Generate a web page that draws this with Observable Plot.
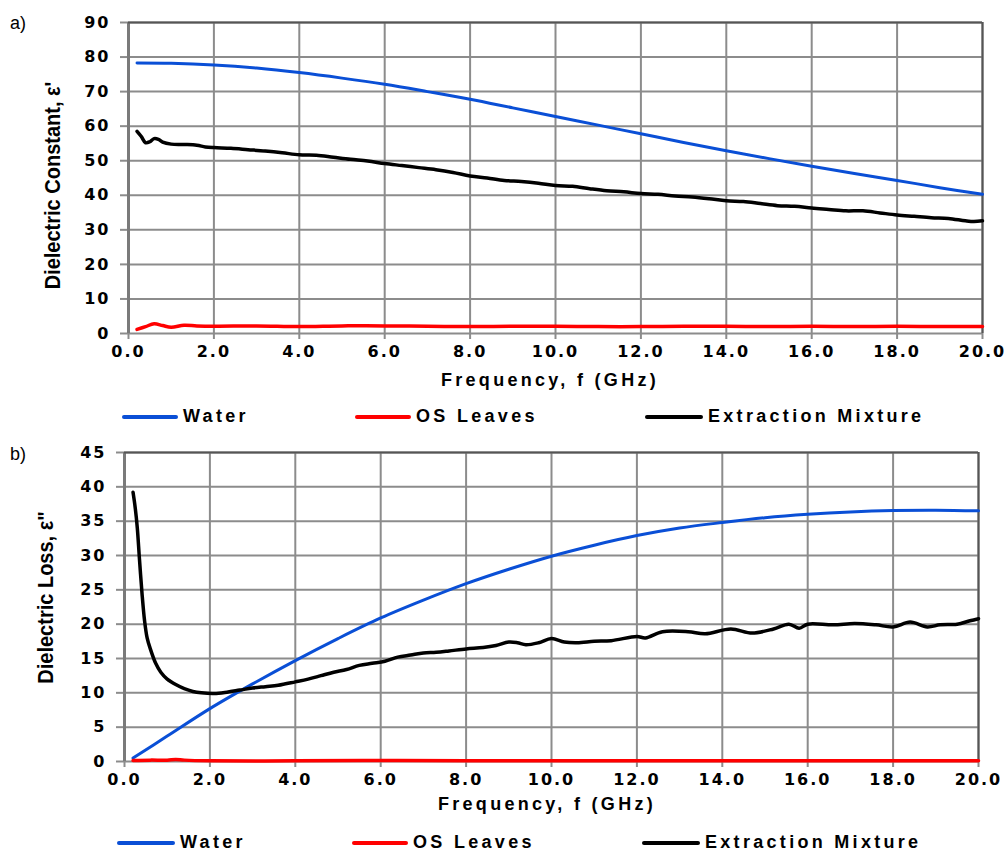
<!DOCTYPE html>
<html>
<head>
<meta charset="utf-8">
<script src="https://cdn.jsdelivr.net/npm/d3@7"></script>
<script src="https://cdn.jsdelivr.net/npm/@observablehq/plot@0.6"></script>
<style>
  html, body { margin: 0; padding: 0; background: #fff; }
  #wrap { position: relative; width: 1006px; height: 854px; overflow: hidden; font-family: "Liberation Sans", Arial, sans-serif; }
  .panel { position: absolute; left: 0; }
  .txt { position: absolute; white-space: nowrap; color: #000; }
  .xtitle { font-weight: bold; font-size: 18px; letter-spacing: 3.3px; width: 400px; text-align: center; }
  .leg { font-weight: bold; font-size: 18px; letter-spacing: 3.3px; }
  .sw { position: absolute; height: 4px; border-radius: 2px; }
  .ytitle { font-size: 20px; font-weight: bold; transform-origin: center center; }
  .plab { font-size: 18px; }
  svg g[aria-label="x-axis tick label"] text { letter-spacing: 2px; }
  svg g[aria-label="y-axis tick label"] text { letter-spacing: 2px; }
</style>
</head>
<body>
<div id="wrap"></div>
<script>
// ---------- data ----------
const xTicks = [0, 2, 4, 6, 8, 10, 12, 14, 16, 18, 20];
const yTicksA = [0, 10, 20, 30, 40, 50, 60, 70, 80, 90];
const yTicksB = [0, 5, 10, 15, 20, 25, 30, 35, 40, 45];
const seriesNames = ["Water", "OS Leaves", "Extraction Mixture"];
const seriesColors = ["#0a4fd6", "#ff0000", "#000000"];

// a) Dielectric constant
const waterFreq = [0.2, 1, 2, 3, 4, 5, 6, 7, 8, 9, 10, 11, 12, 13, 14, 15, 16, 17, 18, 19, 20];
const waterConst = [78.3, 78.2, 77.7, 76.8, 75.5, 73.9, 72.1, 70.0, 67.8, 65.3, 62.8, 60.3, 57.8, 55.3, 52.9, 50.6, 48.4, 46.3, 44.3, 42.2, 40.3];
const leavesConstFreq = [0.2, 0.4, 0.6, 0.8, 1.0, 1.3, 1.6, 2, 3, 4, 5, 6, 7, 8, 9, 10, 11, 12, 13, 14, 15, 16, 17, 18, 19, 20];
const leavesConst = [1.2, 2.0, 2.8, 2.3, 1.8, 2.4, 2.2, 2.1, 2.2, 2.0, 2.2, 2.2, 2.1, 2.0, 2.1, 2.1, 2.0, 2.0, 2.1, 2.1, 2.0, 2.1, 2.0, 2.1, 2.0, 2.0];
const mixConstFreq = [0.2, 0.3, 0.4, 0.5, 0.6, 0.7, 0.8, 1.0, 1.3, 1.6, 1.8, 2.0, 2.4, 2.8, 3.2, 3.6, 4.0, 4.4, 4.8, 5.2, 5.6, 6.0, 6.4, 6.8, 7.2, 7.6, 8.0, 8.4, 8.8, 9.2, 9.6, 10.0, 10.4, 10.8, 11.2, 11.6, 12.0, 12.4, 12.8, 13.2, 13.6, 14.0, 14.4, 14.8, 15.2, 15.6, 16.0, 16.4, 16.8, 17.2, 17.6, 18.0, 18.4, 18.8, 19.2, 19.6, 19.8, 20.0];
const mixConst = [58.5, 57.0, 55.2, 55.5, 56.4, 56.2, 55.4, 54.8, 54.7, 54.5, 54.0, 53.8, 53.6, 53.2, 52.8, 52.3, 51.7, 51.6, 51.0, 50.4, 49.9, 49.2, 48.6, 48.0, 47.4, 46.6, 45.6, 45.0, 44.3, 44.0, 43.5, 42.8, 42.6, 41.9, 41.3, 41.0, 40.5, 40.3, 39.8, 39.5, 39.0, 38.4, 38.2, 37.6, 37.0, 36.8, 36.3, 35.9, 35.5, 35.5, 34.9, 34.3, 33.9, 33.5, 33.3, 32.6, 32.4, 32.6];

// b) Dielectric loss
const waterLoss = [0.5, 3.7, 7.7, 11.3, 14.7, 17.9, 20.9, 23.5, 25.9, 28.0, 29.9, 31.5, 32.9, 34.0, 34.8, 35.5, 36.0, 36.35, 36.55, 36.6, 36.5];
const leavesLossFreq = [0.2, 0.6, 1.0, 1.2, 1.4, 2, 4, 6, 8, 10, 12, 14, 16, 18, 20];
const leavesLoss = [0.15, 0.2, 0.2, 0.3, 0.2, 0.1, 0.1, 0.15, 0.1, 0.1, 0.12, 0.1, 0.1, 0.12, 0.1];
const mixLossFreq = [0.2, 0.25, 0.3, 0.35, 0.41, 0.47, 0.53, 0.6, 0.73, 0.85, 1.0, 1.2, 1.4, 1.6, 1.8, 2.1, 2.4, 2.7, 3.0, 3.3, 3.6, 4.0, 4.3, 4.6, 4.9, 5.2, 5.5, 5.8, 6.1, 6.4, 6.7, 7.0, 7.3, 7.6, 8.0, 8.4, 8.7, 9.0, 9.2, 9.4, 9.7, 10.0, 10.3, 10.6, 11.0, 11.4, 12.0, 12.2, 12.6, 13.2, 13.6, 14.2, 14.7, 15.2, 15.56, 15.8, 16.0, 16.6, 17.1, 17.6, 18.0, 18.4, 18.8, 19.1, 19.5, 19.8, 20.0];
const mixLoss = [39.2, 37.0, 34.0, 29.5, 24.5, 20.5, 18.0, 16.5, 14.3, 13.0, 12.0, 11.2, 10.6, 10.2, 10.0, 9.9, 10.1, 10.4, 10.7, 10.9, 11.1, 11.6, 12.0, 12.5, 13.0, 13.4, 14.0, 14.3, 14.6, 15.2, 15.5, 15.8, 15.9, 16.1, 16.4, 16.6, 16.9, 17.4, 17.3, 17.0, 17.3, 17.9, 17.4, 17.3, 17.5, 17.6, 18.2, 18.0, 18.9, 18.9, 18.6, 19.3, 18.7, 19.3, 20.0, 19.4, 20.0, 19.9, 20.1, 19.9, 19.6, 20.3, 19.6, 19.9, 20.0, 20.5, 20.8];

// ---------- helpers ----------
const zip = (fs, vs) => fs.map((f, i) => ({f, v: vs[i]}));
const gridColor = "#8c8c8c";
const tickFont = "'DejaVu Sans', Verdana, sans-serif";

function panel({yTicks, yMax, water, leaves, mix, ml, mr, top}) {
  const chart = Plot.plot({
    width: 1006,
    height: 22 + (yMax === 90 ? 311 : 309) + 60,
    marginTop: 22,
    marginBottom: 60,
    marginLeft: ml,
    marginRight: mr,
    style: {fontFamily: tickFont, fontWeight: "bold", color: "#000", background: "transparent", overflow: "visible"},
    x: {domain: [0, 20]},
    y: {domain: [0, yMax]},
    marks: [
      Plot.gridX(xTicks, {stroke: gridColor, strokeOpacity: 1, strokeWidth: 2}),
      Plot.gridY(yTicks, {stroke: gridColor, strokeOpacity: 1, strokeWidth: 2}),
      Plot.axisX(xTicks, {tickFormat: d3.format(".1f"), tickSize: 6, tickPadding: 6, fontSize: 16, fontWeight: "bold", fontFamily: tickFont, stroke: gridColor, strokeWidth: 2, fill: "#000", label: null}),
      Plot.axisY(yTicks, {tickFormat: d3.format("d"), tickSize: 8, tickPadding: 10, fontSize: 16, fontWeight: "bold", fontFamily: tickFont, stroke: gridColor, strokeWidth: 2, fill: "#000", label: null}),
      Plot.ruleX([0], {stroke: "#7a7a7a", strokeWidth: 3}),
      Plot.ruleX([20], {stroke: "#555", strokeWidth: 2}),
      Plot.ruleY([yMax], {stroke: "#555", strokeWidth: 2}),
      Plot.line(water, {x: "f", y: "v", stroke: seriesColors[0], strokeWidth: 3, curve: "catmull-rom", strokeLinecap: "round"}),
      Plot.line(leaves, {x: "f", y: "v", stroke: seriesColors[1], strokeWidth: 3.5, curve: "catmull-rom", strokeLinecap: "round"}),
      Plot.line(mix, {x: "f", y: "v", stroke: seriesColors[2], strokeWidth: 3.5, curve: "catmull-rom", strokeLinecap: "round", strokeLinejoin: "round"})
    ]
  });
  chart.classList.add("panel");
  chart.style.top = top + "px";
  return chart;
}

const wrap = document.getElementById("wrap");
wrap.appendChild(panel({yTicks: yTicksA, yMax: 90, water: zip(waterFreq, waterConst), leaves: zip(leavesConstFreq, leavesConst), mix: zip(mixConstFreq, mixConst), ml: 128, mr: 24, top: 0}));
wrap.appendChild(panel({yTicks: yTicksB, yMax: 45, water: zip(waterFreq, waterLoss), leaves: zip(leavesLossFreq, leavesLoss), mix: zip(mixLossFreq, mixLoss), ml: 124, mr: 28, top: 430}));

function addText(html, cls, left, top, extraStyle) {
  const d = document.createElement("div");
  d.className = "txt " + cls;
  d.textContent = html;
  d.style.left = left + "px";
  d.style.top = top + "px";
  if (extraStyle) Object.assign(d.style, extraStyle);
  wrap.appendChild(d);
  return d;
}
function addSwatch(color, x1, x2, y) {
  const s = document.createElement("div");
  s.className = "sw";
  s.style.left = x1 + "px";
  s.style.width = (x2 - x1) + "px";
  s.style.top = (y - 2) + "px";
  s.style.background = color;
  wrap.appendChild(s);
}

// panel labels
addText("a)", "plab", 10, 13);
addText("b)", "plab", 10, 444);

// axis titles
addText("Frequency, f (GHz)", "xtitle", 550 - 200, 370);
addText("Frequency, f (GHz)", "xtitle", 547 - 200, 794);

function yTitle(text, cx, cy) {
  const d = addText(text, "ytitle", 0, 0);
  const w = d.offsetWidth, h = d.offsetHeight;
  d.style.left = (cx - w / 2) + "px";
  d.style.top = (cy - h / 2) + "px";
  d.style.transform = "rotate(-90deg) scaleY(1.1)";
}
yTitle("Dielectric Constant, ε'", 53, 185);
yTitle("Dielectric Loss, ε\"", 46, 597);

// legends
const legA = [[122, 178, 183], [355, 411, 416], [645, 703, 708]];
const legB = [[117, 175, 180], [352, 408, 413], [642, 700, 705]];
function legend(pos, y) {
  seriesNames.forEach((name, i) => {
    addSwatch(seriesColors[i], pos[i][0], pos[i][1], y);
    addText(name, "leg", pos[i][2], y - 11);
  });
}
legend(legA, 417);
legend(legB, 843);
</script>
</body>
</html>
